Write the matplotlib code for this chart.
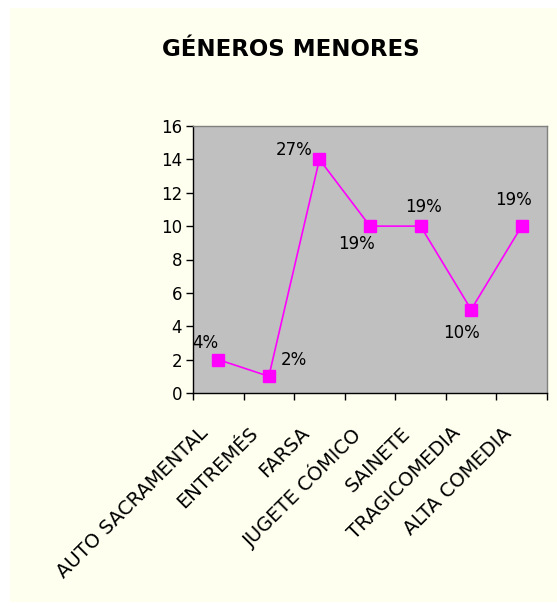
import matplotlib
matplotlib.use("Agg")
import matplotlib.pyplot as plt
import matplotlib.transforms as mtransforms
from matplotlib.patches import Rectangle

# data
categories = ["AUTO SACRAMENTAL", "ENTREMÉS", "FARSA", "JUGETE CÓMICO",
              "SAINETE", "TRAGICOMEDIA", "ALTA COMEDIA"]
counts = [2, 1, 14, 10, 10, 5, 10]
pct_labels = ["4%", "2%", "27%", "19%", "19%", "10%", "19%"]

# where each percent label sits relative to its point (points)
label_offsets = [(-9, 12), (18, 12), (-18, 7), (-10, -13), (2, 14), (-7, -17), (-6, 19)]

plt.rcParams["font.family"] = ["DejaVu Sans"]

fig = plt.figure(figsize=(5.57, 6.08), dpi=100)
fig.patch.set_facecolor("white")
# cream chart area
fig.add_artist(Rectangle((10 / 557, 6 / 608), 547 / 557, 594 / 608,
                         transform=fig.transFigure, facecolor="#FEFFEF",
                         edgecolor="none", zorder=0))

ax = fig.add_axes([193 / 557, 1 - 393 / 608, 354 / 557, 267 / 608])
ax.set_facecolor("#C0C0C0")

x = list(range(len(categories)))
ax.plot(x, counts, color="#FF00FF", linewidth=1.2, marker="s",
        markersize=8, markerfacecolor="#FF00FF", markeredgecolor="#FF00FF",
        zorder=3)

for xi, yi, lab, off in zip(x, counts, pct_labels, label_offsets):
    ax.annotate(lab, (xi, yi), xytext=off, textcoords="offset points",
                ha="center", va="center", fontsize=12, color="black")

ax.set_xlim(-0.5, len(categories) - 0.5)
ax.set_ylim(0, 16)
ax.set_yticks(range(0, 17, 2))
ax.tick_params(axis="y", direction="out", length=5, width=1, labelsize=12,
               pad=3)

# category labels, tick marks on category boundaries
ax.set_xticks(x)
ax.set_xticklabels(categories, rotation=45, ha="right",
                   rotation_mode="anchor", fontsize=14)
ax.tick_params(axis="x", which="major", length=0, pad=22)
ax.set_xticks([i - 0.5 for i in range(len(categories) + 1)], minor=True)
ax.tick_params(axis="x", which="minor", direction="out", length=5, width=1)
shift = mtransforms.ScaledTranslation(-20 / 100, 0, fig.dpi_scale_trans)
for lbl in ax.get_xticklabels():
    lbl.set_transform(lbl.get_transform() + shift)

for side in ["left", "bottom"]:
    ax.spines[side].set_color("black")
    ax.spines[side].set_linewidth(1)
for side in ["top", "right"]:
    ax.spines[side].set_color("#808080")
    ax.spines[side].set_linewidth(1)

fig.text(291 / 557, 1 - 50 / 608, "GÉNEROS MENORES", ha="center",
         va="center", fontsize=16.5, fontweight="bold")

fig.savefig("out.png", dpi=100, facecolor=fig.get_facecolor())
